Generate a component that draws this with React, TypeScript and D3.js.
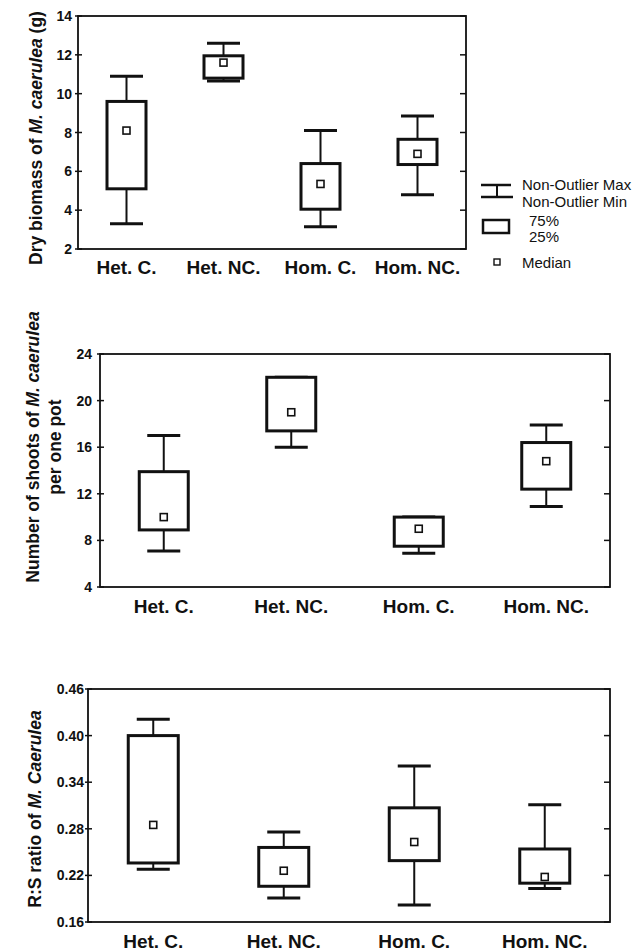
import React from "react";
import * as d3 from "d3";

const categories = ["Het. C.", "Het. NC.", "Hom. C.", "Hom. NC."];

// Chart 1: Dry biomass (g)
const biomassMax = [10.9, 12.6, 8.1, 8.85];
const biomassQ3 = [9.6, 11.95, 6.4, 7.65];
const biomassMedian = [8.1, 11.6, 5.35, 6.9];
const biomassQ1 = [5.1, 10.8, 4.05, 6.35];
const biomassMin = [3.3, 10.65, 3.15, 4.8];
const biomassTicks = [2, 4, 6, 8, 10, 12, 14];

// Chart 2: Number of shoots per pot
const shootsMax = [17, 22, 10, 17.9];
const shootsQ3 = [13.9, 22, 10, 16.4];
const shootsMedian = [10, 19, 9, 14.8];
const shootsQ1 = [8.9, 17.4, 7.5, 12.4];
const shootsMin = [7.1, 16, 6.9, 10.9];
const shootsTicks = [4, 8, 12, 16, 20, 24];

// Chart 3: R:S ratio
const rsMax = [0.421, 0.276, 0.361, 0.311];
const rsQ3 = [0.4, 0.256, 0.307, 0.254];
const rsMedian = [0.285, 0.226, 0.263, 0.218];
const rsQ1 = [0.236, 0.206, 0.239, 0.21];
const rsMin = [0.228, 0.191, 0.182, 0.203];
const rsTicks = [0.16, 0.22, 0.28, 0.34, 0.4, 0.46];

const legendLabels = ["Non-Outlier Max", "Non-Outlier Min", "75%", "25%", "Median"];

const FONT = "'Liberation Sans', Arial, Helvetica, sans-serif";

type BoxProps = {
  left: number;
  right: number;
  top: number;
  bottom: number;
  domain: [number, number];
  ticks: number[];
  fmt: (v: number) => string;
  maxs: number[];
  q3s: number[];
  meds: number[];
  q1s: number[];
  mins: number[];
  boxWidth: number;
  labelY: number;
  tickLabelGap: number;
  title: React.ReactNode;
};

function BoxChart(p: BoxProps) {
  const x = d3.scaleBand<string>().domain(categories).range([p.left, p.right]);
  const y = d3.scaleLinear().domain(p.domain).range([p.bottom, p.top]);
  const capW = 33;
  return (
    <g>
      {p.title}
      <rect
        x={p.left}
        y={p.top}
        width={p.right - p.left}
        height={p.bottom - p.top}
        fill="none"
        stroke="#111"
        strokeWidth={1.8}
      />
      {p.ticks.map((t) => (
        <g key={t}>
          <line x1={p.left - 3} x2={p.left + 4} y1={y(t)} y2={y(t)} stroke="#111" strokeWidth={1.5} />
          <line x1={p.right - 6} x2={p.right} y1={y(t)} y2={y(t)} stroke="#111" strokeWidth={1.5} />
          <text
            x={p.left - p.tickLabelGap}
            y={y(t)}
            dy="0.36em"
            textAnchor="end"
            fontFamily={FONT}
            fontWeight="bold"
            fontSize={14}
            fill="#111"
          >
            {p.fmt(t)}
          </text>
        </g>
      ))}
      {categories.map((c, i) => {
        const cx = (x(c) as number) + x.bandwidth() / 2;
        const bw = p.boxWidth;
        return (
          <g key={c}>
            <line x1={cx} x2={cx} y1={y(p.maxs[i])} y2={y(p.q3s[i])} stroke="#111" strokeWidth={2} />
            <line x1={cx} x2={cx} y1={y(p.q1s[i])} y2={y(p.mins[i])} stroke="#111" strokeWidth={2} />
            <line x1={cx - capW / 2} x2={cx + capW / 2} y1={y(p.maxs[i])} y2={y(p.maxs[i])} stroke="#111" strokeWidth={3} />
            <line x1={cx - capW / 2} x2={cx + capW / 2} y1={y(p.mins[i])} y2={y(p.mins[i])} stroke="#111" strokeWidth={3} />
            <rect
              x={cx - bw / 2}
              y={y(p.q3s[i])}
              width={bw}
              height={y(p.q1s[i]) - y(p.q3s[i])}
              fill="#fff"
              stroke="#111"
              strokeWidth={3}
            />
            <rect
              x={cx - 3.5}
              y={y(p.meds[i]) - 3.5}
              width={7}
              height={7}
              fill="#fff"
              stroke="#111"
              strokeWidth={1.6}
            />
            <text
              x={cx}
              y={p.labelY}
              textAnchor="middle"
              fontFamily={FONT}
              fontWeight="bold"
              fontSize={19}
              fill="#111"
            >
              {c}
            </text>
          </g>
        );
      })}
    </g>
  );
}

function Legend() {
  const lx = 481;
  const rx = 511;
  const mx = 497;
  const tx = 522;
  const fs = 15;
  return (
    <g fontFamily={FONT} fontSize={fs} fill="#111">
      <line x1={lx} x2={rx} y1={185} y2={185} stroke="#111" strokeWidth={2.5} />
      <line x1={mx} x2={mx} y1={185} y2={197} stroke="#111" strokeWidth={2} />
      <line x1={lx} x2={rx + 2} y1={197} y2={197} stroke="#111" strokeWidth={2.5} />
      <rect x={483} y={220} width={26} height={13} fill="#fff" stroke="#111" strokeWidth={2.5} />
      <rect x={494} y={259} width={6} height={6} fill="#fff" stroke="#111" strokeWidth={1.4} />
      <text x={tx} y={185} dy="0.36em">{legendLabels[0]}</text>
      <text x={tx} y={202} dy="0.36em">{legendLabels[1]}</text>
      <text x={529} y={221} dy="0.36em">{legendLabels[2]}</text>
      <text x={529} y={237} dy="0.36em">{legendLabels[3]}</text>
      <text x={tx} y={263} dy="0.36em">{legendLabels[4]}</text>
    </g>
  );
}

export default function App() {
  const f0 = (v: number) => d3.format("d")(v);
  const f2 = (v: number) => d3.format(".2f")(v);
  return (
    <svg
      width={637}
      height={952}
      style={{ position: "absolute", left: 0, top: 0, background: "#fff" }}
    >
      <rect width={637} height={952} fill="#fff" />
      <BoxChart
        left={78}
        right={466}
        top={16}
        bottom={249}
        domain={[2, 14]}
        ticks={biomassTicks}
        fmt={f0}
        maxs={biomassMax}
        q3s={biomassQ3}
        meds={biomassMedian}
        q1s={biomassQ1}
        mins={biomassMin}
        boxWidth={39}
        labelY={274}
        tickLabelGap={6}
        title={
          <text
            transform="translate(42,138) rotate(-90)"
            textAnchor="middle"
            fontFamily={FONT}
            fontWeight="bold"
            fontSize={17.5}
            fill="#111"
          >
            Dry biomass of <tspan fontStyle="italic">M. caerulea</tspan> (g)
          </text>
        }
      />
      <Legend />
      <BoxChart
        left={100}
        right={610}
        top={354}
        bottom={587}
        domain={[4, 24]}
        ticks={shootsTicks}
        fmt={f0}
        maxs={shootsMax}
        q3s={shootsQ3}
        meds={shootsMedian}
        q1s={shootsQ1}
        mins={shootsMin}
        boxWidth={49}
        labelY={613}
        tickLabelGap={8}
        title={
          <g fontFamily={FONT} fontWeight="bold" fontSize={17.5} fill="#111">
            <text transform="translate(39,447) rotate(-90)" textAnchor="middle">
              Number of shoots of <tspan fontStyle="italic">M. caerulea</tspan>
            </text>
            <text transform="translate(61,447) rotate(-90)" textAnchor="middle">
              per one pot
            </text>
          </g>
        }
      />
      <BoxChart
        left={88}
        right={610}
        top={689}
        bottom={922}
        domain={[0.16, 0.46]}
        ticks={rsTicks}
        fmt={f2}
        maxs={rsMax}
        q3s={rsQ3}
        meds={rsMedian}
        q1s={rsQ1}
        mins={rsMin}
        boxWidth={50}
        labelY={948}
        tickLabelGap={4}
        title={
          <text
            transform="translate(41,809) rotate(-90)"
            textAnchor="middle"
            fontFamily={FONT}
            fontWeight="bold"
            fontSize={17.5}
            fill="#111"
          >
            R:S ratio of <tspan fontStyle="italic">M. Caerulea</tspan>
          </text>
        }
      />
    </svg>
  );
}
